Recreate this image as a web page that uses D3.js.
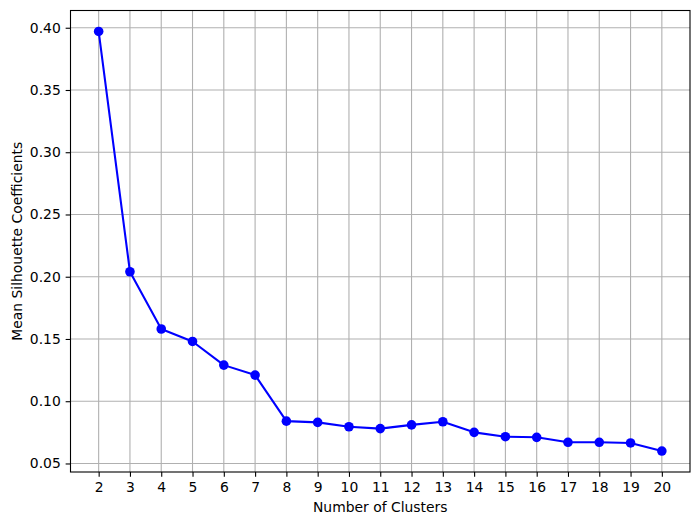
<!DOCTYPE html>
<html>
<head>
<meta charset="utf-8">
<script src="https://cdn.jsdelivr.net/npm/d3@7"></script>
<style>
  html, body { margin: 0; padding: 0; background: #fff; }
  svg { display: block; }
  text { font-family: "DejaVu Sans", sans-serif; fill: #000; }
</style>
</head>
<body>
<svg id="chart" width="700" height="525"></svg>
<script>
const clusters = [2, 3, 4, 5, 6, 7, 8, 9, 10, 11, 12, 13, 14, 15, 16, 17, 18, 19, 20];
const silhouette = [0.397, 0.204, 0.158, 0.148, 0.129, 0.121, 0.084, 0.083, 0.0795, 0.078, 0.081, 0.0835, 0.075, 0.0715, 0.071, 0.067, 0.067, 0.0665, 0.060];
const yTicks = [0.05, 0.10, 0.15, 0.20, 0.25, 0.30, 0.35, 0.40];
const xLabel = "Number of Clusters";
const yLabel = "Mean Silhouette Coefficients";

const svg = d3.select("#chart");
const pL = 70.5, pR = 690, pT = 10.5, pB = 472;
const fontPx = 13.9;
const tickLen = 4.86, pad = 4.86;

const x = d3.scaleLinear().domain([1.1, 20.9]).range([pL, pR]);
const ymin = d3.min(silhouette), ymax = d3.max(silhouette);
const m = (ymax - ymin) * 0.05;
const y = d3.scaleLinear().domain([ymin - m, ymax + m]).range([pB, pT]);

// grid
const g = svg.append("g");
g.selectAll("line.vg").data(clusters).enter().append("line")
  .attr("x1", d => x(d)).attr("x2", d => x(d))
  .attr("y1", pT).attr("y2", pB)
  .attr("stroke", "#b0b0b0").attr("stroke-width", 1.1);
g.selectAll("line.hg").data(yTicks).enter().append("line")
  .attr("y1", d => y(d)).attr("y2", d => y(d))
  .attr("x1", pL).attr("x2", pR)
  .attr("stroke", "#b0b0b0").attr("stroke-width", 1.1);

// line
const line = d3.line().x((d, i) => x(clusters[i])).y(d => y(d));
svg.append("path").datum(silhouette)
  .attr("d", line).attr("fill", "none")
  .attr("stroke", "#0000ff").attr("stroke-width", 2.08)
  .attr("stroke-linejoin", "round").attr("stroke-linecap", "square");
svg.selectAll("circle.pt").data(silhouette).enter().append("circle")
  .attr("cx", (d, i) => x(clusters[i])).attr("cy", d => y(d))
  .attr("r", 4.8).attr("fill", "#0000ff");

// axes
const xAxis = d3.axisBottom(x).tickValues(clusters).tickFormat(d3.format("d"))
  .tickSize(tickLen).tickPadding(pad);
const xg = svg.append("g").attr("transform", `translate(0,${pB})`).call(xAxis);
const yAxis = d3.axisLeft(y).tickValues(yTicks).tickFormat(d3.format(".2f"))
  .tickSize(tickLen).tickPadding(pad);
const yg = svg.append("g").attr("transform", `translate(${pL},0)`).call(yAxis);
[xg, yg].forEach(a => {
  a.select(".domain").remove();
  a.selectAll(".tick line").attr("stroke", "#000").attr("stroke-width", 1.1);
  a.selectAll(".tick text").attr("font-family", "DejaVu Sans, sans-serif")
    .attr("font-size", fontPx).attr("fill", "#000");
});

// spines
svg.append("rect").attr("x", pL).attr("y", pT)
  .attr("width", pR - pL).attr("height", pB - pT)
  .attr("fill", "none").attr("stroke", "#000").attr("stroke-width", 1.1);

// labels
svg.append("text").attr("x", (pL + pR) / 2).attr("y", 511.5)
  .attr("text-anchor", "middle").attr("font-size", fontPx).text(xLabel);
svg.append("text")
  .attr("transform", `translate(21.5,${(pT + pB) / 2}) rotate(-90)`)
  .attr("text-anchor", "middle").attr("font-size", fontPx).text(yLabel);
</script>
</body>
</html>
